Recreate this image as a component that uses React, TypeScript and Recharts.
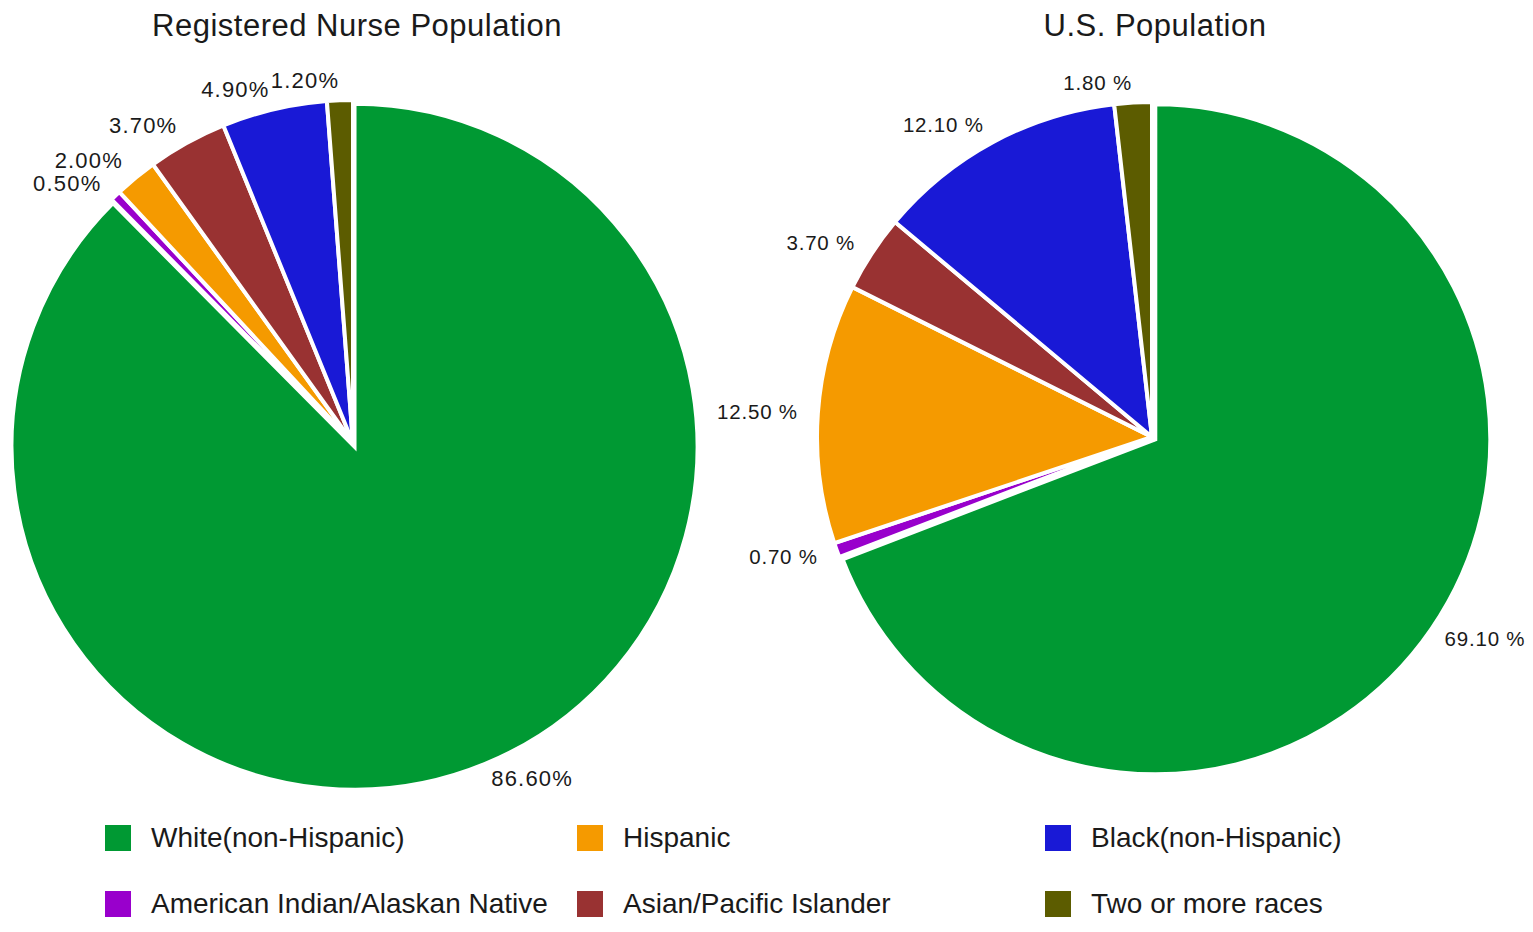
import React from "react";
import { PieChart, Pie, Cell, Sector } from "recharts";

// legend / slice order (clockwise from 12 o'clock)
const groups = [
  "White(non-Hispanic)",
  "American Indian/Alaskan Native",
  "Hispanic",
  "Asian/Pacific Islander",
  "Black(non-Hispanic)",
  "Two or more races",
];
const colors = ["#009933", "#9900cc", "#f59a00", "#993232", "#1919d6", "#5c5c00"];

const nurseValues = [86.6, 0.5, 2.0, 3.7, 4.9, 1.2];
const usValues = [69.1, 0.7, 12.5, 3.7, 12.1, 1.8];

// legend grid order (3 columns, 2 rows)
const legendOrder = [0, 2, 4, 1, 3, 5];

const font = "'Liberation Sans', Arial, sans-serif";
const RAD = Math.PI / 180;

const toRows = (vals: number[]) => groups.map((name, i) => ({ name, value: vals[i] }));

// pull the big slice a little away from the centre
const explodedShape = (props: any) => {
  const { cx, cy, midAngle, index } = props;
  const d = index === 0 ? 4 : 0;
  const dx = d * Math.cos(-midAngle * RAD);
  const dy = d * Math.sin(-midAngle * RAD);
  return <Sector {...props} cx={cx + dx} cy={cy + dy} />;
};

// vertical nudges so neighbouring labels that sit on top of each other don't collide
const labelNudges = (vals: number[], radius: number, minGap: number) => {
  const total = vals.reduce((a, b) => a + b, 0);
  let acc = 0;
  const items = vals.map((v, i) => {
    const mid = 90 - ((acc + v / 2) / total) * 360;
    acc += v;
    return { i, x: Math.cos(mid * RAD) * radius, y: -Math.sin(mid * RAD) * radius };
  });
  const nudge = vals.map(() => 0);
  for (let a = 0; a < items.length; a++) {
    const b = (a + 1) % items.length;
    const dx = Math.abs(items[a].x - items[b].x);
    const dy = Math.abs(items[a].y - items[b].y);
    if (dx < 60 && dy < minGap) {
      const push = (minGap - dy) / 2;
      const upper = items[a].y < items[b].y ? a : b;
      const lower = upper === a ? b : a;
      nudge[items[upper].i] -= push;
      nudge[items[lower].i] += push;
    }
  }
  return nudge;
};

const makeLabel = (vals: number[], radius: number, sep: string, size: number, spacing: number) => {
  const nudge = labelNudges(vals, radius + 20, 23);
  return (props: any) => {
    const { cx, cy, midAngle, outerRadius, value, index } = props;
    const r = outerRadius + 20;
    const x = cx + r * Math.cos(-midAngle * RAD);
    const y = cy + r * Math.sin(-midAngle * RAD) + nudge[index];
    return (
      <text
        x={x}
        y={y}
        textAnchor={x > cx ? "start" : "end"}
        dominantBaseline="central"
        fontSize={size}
        fontFamily={font}
        fill="#1a1a1a"
        letterSpacing={spacing}
      >
        {value.toFixed(2) + sep + "%"}
      </text>
    );
  };
};

const PieBlock = ({ title, titleX, values, left, width, cx, cy, r, sep, size, spacing }: any) => (
  <div style={{ position: "absolute", left, top: 0, width, height: 820 }}>
    <div
      style={{
        position: "absolute",
        left: titleX - 300,
        width: 600,
        top: 8,
        textAlign: "center",
        fontFamily: font,
        fontSize: 31,
        lineHeight: "36px",
        color: "#1a1a1a",
        letterSpacing: 0.5,
      }}
    >
      {title}
    </div>
    <PieChart width={width} height={820} margin={{ top: 0, right: 0, bottom: 0, left: 0 }}>
      <Pie
        data={toRows(values)}
        dataKey="value"
        cx={cx}
        cy={cy}
        outerRadius={r}
        startAngle={90}
        endAngle={-270}
        stroke="#ffffff"
        strokeWidth={4}
        labelLine={false}
        label={makeLabel(values, r, sep, size, spacing)}
        shape={explodedShape}
        isAnimationActive={false}
      >
        {values.map((_: number, i: number) => (
          <Cell key={i} fill={colors[i]} />
        ))}
      </Pie>
    </PieChart>
  </div>
);

export default function App() {
  return (
    <div style={{ position: "absolute", left: 0, top: 0, width: 1533, height: 932, background: "#fff" }}>
      <PieBlock
        title="Registered Nurse Population"
        titleX={357}
        values={nurseValues}
        left={0}
        width={720}
        cx={353}
        cy={443}
        r={343}
        sep=""
        size={22}
        spacing={1.2}
      />
      <PieBlock
        title="U.S. Population"
        titleX={455}
        values={usValues}
        left={700}
        width={833}
        cx={452}
        cy={437}
        r={335}
        sep=" "
        size={20.5}
        spacing={0.8}
      />
      {legendOrder.map((gi, k) => {
        const col = k % 3;
        const row = Math.floor(k / 3);
        const colX = [105, 577, 1045][col];
        return (
          <div
            key={gi}
            style={{
              position: "absolute",
              left: colX,
              top: 822 + row * 66,
              display: "flex",
              alignItems: "center",
              fontFamily: font,
              fontSize: 28,
              lineHeight: "32px",
              color: "#1a1a1a",
              whiteSpace: "nowrap",
            }}
          >
            <span style={{ width: 26, height: 26, background: colors[gi], display: "inline-block", marginRight: 20 }} />
            <span>{groups[gi]}</span>
          </div>
        );
      })}
    </div>
  );
}
